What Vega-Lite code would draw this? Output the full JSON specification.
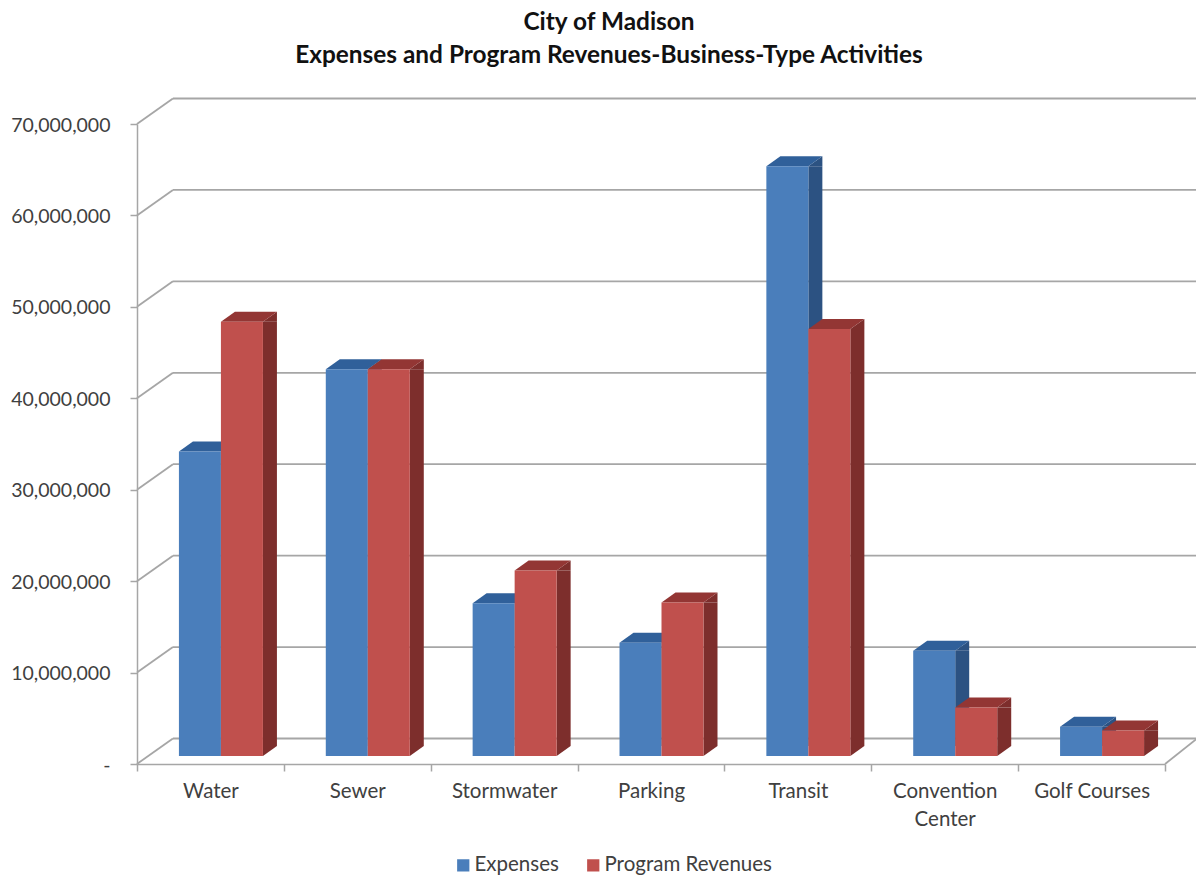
{"$schema":"https://vega.github.io/schema/vega-lite/v6.json","width":1028,"height":640,"autosize":"none","padding":{"left":137,"top":124,"right":31,"bottom":111},"background":"white",
"title":{"text":["City of Madison","Expenses and Program Revenues-Business-Type Activities"],"anchor":"middle","dx":-42,"offset":27,"font":"Lato","fontSize":24.4,"fontWeight":"bold","lineHeight":33,"color":"#111111"},
"config":{"view":{"stroke":null},"axis":{"title":null}},
"datasets":{"bars":[
{"category":"Water","series":"Expenses","amount":33300000},{"category":"Water","series":"Program Revenues","amount":47500000},
{"category":"Sewer","series":"Expenses","amount":42300000},{"category":"Sewer","series":"Program Revenues","amount":42300000},
{"category":"Stormwater","series":"Expenses","amount":16700000},{"category":"Stormwater","series":"Program Revenues","amount":20300000},
{"category":"Parking","series":"Expenses","amount":12400000},{"category":"Parking","series":"Program Revenues","amount":16800000},
{"category":"Transit","series":"Expenses","amount":64500000},{"category":"Transit","series":"Program Revenues","amount":46700000},
{"category":"Convention Center","series":"Expenses","amount":11500000},{"category":"Convention Center","series":"Program Revenues","amount":5300000},
{"category":"Golf Courses","series":"Expenses","amount":3200000},{"category":"Golf Courses","series":"Program Revenues","amount":2800000}],
"grid":[{"amount":0},{"amount":10000000},{"amount":20000000},{"amount":30000000},{"amount":40000000},{"amount":50000000},{"amount":60000000},{"amount":70000000}]},
"data":{"name":"bars"},
"encoding":{"y":{"field":"amount","type":"quantitative","scale":{"domain":[0,70000000],"nice":false},"axis":{"values":[0,10000000,20000000,30000000,40000000,50000000,60000000,70000000],"labelExpr":"datum.value==0?'-':format(datum.value,',')","grid":false,"domainColor":"#a6a6a6","domainWidth":1.5,"tickColor":"#a6a6a6","tickWidth":1.5,"tickSize":7,"labelPadding":20,"labelFont":"Lato","labelFontSize":19.5,"labelColor":"#404040","labelOffset":1}}},
"layer":[
{"data":{"name":"grid"},"mark":{"type":"rule","color":"#a6a6a6","strokeWidth":1.8,"xOffset":-37.5,"x2Offset":109.5,"yOffset":-25.5},"encoding":{"x":{"datum":"Water","type":"nominal"},"x2":{"datum":"Golf Courses"}}},
{"data":{"name":"grid"},"mark":{"type":"point","shape":"M0,0 L36,-25.5","size":4,"filled":false,"stroke":"#a6a6a6","strokeWidth":1.8,"opacity":1,"xOffset":-73.5},"encoding":{"x":{"datum":"Water","type":"nominal"}}},
{"data":{"values":[{"amount":0}]},"mark":{"type":"point","shape":"M0,0 L32,-25.5","size":4,"filled":false,"stroke":"#a6a6a6","strokeWidth":1.8,"opacity":1,"xOffset":73.5},"encoding":{"x":{"datum":"Golf Courses","type":"nominal"}}},
{"transform":[{"filter":"datum.series=='Expenses'"}],"mark":{"type":"bar","color":"#2c5282","width":14,"xOffset":17.5,"yOffset":-8,"y2Offset":-18},"encoding":{"x":{"field":"category","type":"nominal","sort":null,"scale":{"domain":["Water","Sewer","Stormwater","Parking","Transit","Convention Center","Golf Courses"],"paddingInner":0,"paddingOuter":0},"axis":{"labelAngle":0,"labelAlign":"center","tickBand":"extent","domainColor":"#a6a6a6","domainWidth":1.5,"tickColor":"#a6a6a6","tickWidth":1.5,"tickSize":7,"labelPadding":20,"labelFont":"Lato","labelFontSize":20.5,"labelColor":"#404040","labelLineHeight":28,"labelExpr":"datum.label=='Convention Center'?['Convention','Center']:datum.label"}},"y2":{"datum":0}}},
{"transform":[{"filter":"datum.series=='Expenses'"}],"mark":{"type":"point","shape":"M21,0 L35,0 L35,-10 Z","size":4,"filled":true,"color":"#2c5282","opacity":1,"xOffset":-10.5,"yOffset":-8},"encoding":{"x":{"field":"category","type":"nominal","sort":null}}},
{"transform":[{"filter":"datum.series=='Expenses'"}],"mark":{"type":"point","shape":"M-21,0 L21,0 L35,-10 L-7,-10 Z","size":4,"filled":true,"color":"#30609a","opacity":1,"xOffset":-10.5,"yOffset":-8},"encoding":{"x":{"field":"category","type":"nominal","sort":null}}},
{"transform":[{"filter":"datum.series=='Expenses'"}],"mark":{"type":"bar","width":42,"xOffset":-10.5,"yOffset":-8,"y2Offset":-8},"encoding":{"x":{"field":"category","type":"nominal","sort":null},"y2":{"datum":0},"color":{"field":"series","type":"nominal","scale":{"domain":["Expenses","Program Revenues"],"range":["#4a7ebb","#c0504d"]},"legend":{"orient":"none","legendX":316,"legendY":731,"direction":"horizontal","title":null,"symbolType":"square","symbolSize":150,"labelFont":"Lato","labelFontSize":20.5,"labelLimit":300,"labelColor":"#404040","columnPadding":24,"labelOffset":1}}}},
{"transform":[{"filter":"datum.series=='Program Revenues'"}],"mark":{"type":"bar","color":"#7d2e2c","width":14,"xOffset":59.5,"yOffset":-8,"y2Offset":-18},"encoding":{"x":{"field":"category","type":"nominal","sort":null},"y2":{"datum":0}}},
{"data":{"name":"bars"},"transform":[{"filter":"datum.series=='Program Revenues'"}],"mark":{"type":"point","shape":"M21,-10 L35,-10 L21,0 Z","size":4,"filled":true,"color":"#7d2e2c","opacity":1,"xOffset":31.5,"yOffset":-8},"encoding":{"x":{"field":"category","type":"nominal","sort":null},"y":{"datum":0}}},
{"transform":[{"filter":"datum.series=='Program Revenues'"}],"mark":{"type":"point","shape":"M21,0 L35,0 L35,-10 Z","size":4,"filled":true,"color":"#7d2e2c","opacity":1,"xOffset":31.5,"yOffset":-8},"encoding":{"x":{"field":"category","type":"nominal","sort":null}}},
{"transform":[{"filter":"datum.series=='Program Revenues'"}],"mark":{"type":"point","shape":"M-21,0 L21,0 L35,-10 L-7,-10 Z","size":4,"filled":true,"color":"#933634","opacity":1,"xOffset":31.5,"yOffset":-8},"encoding":{"x":{"field":"category","type":"nominal","sort":null}}},
{"transform":[{"filter":"datum.series=='Program Revenues'"}],"mark":{"type":"bar","width":42,"xOffset":31.5,"yOffset":-8,"y2Offset":-8},"encoding":{"x":{"field":"category","type":"nominal","sort":null},"y2":{"datum":0},"color":{"field":"series","type":"nominal"}}}
]}
